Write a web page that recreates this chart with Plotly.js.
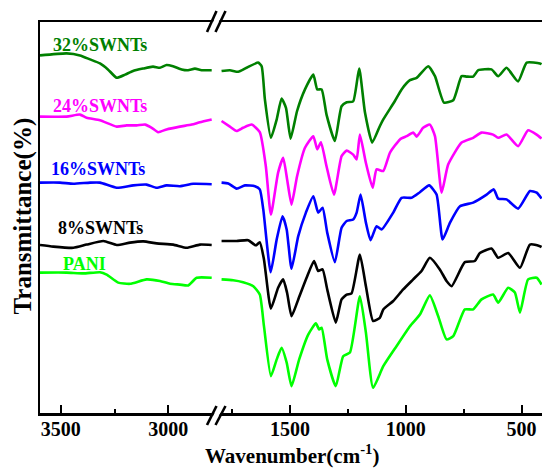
<!DOCTYPE html>
<html>
<head>
<meta charset="utf-8">
<script src="https://cdn.plot.ly/plotly-3.0.1.min.js"></script>
<style>html,body{margin:0;padding:0;background:#fff;}#chart{width:542px;height:468px;}</style>
</head>
<body>
<div id="chart"></div>
<script>
// ---- Data (wavenumber in cm^-1, transmittance in offset arbitrary units) ----
// Left (high-wavenumber) panel
const g32L_x = [3597,3473,3411,3364,3318,3281,3240,3201,3164,3118,3071,3039,3008,2978,2938,2908,2876,2845,2798];
const g32L_y = [89.4,89.9,89.4,88.4,87.4,85.9,83.8,84.6,85.5,86.1,86.6,86.3,87.0,86.7,85.9,85.7,86.1,85.7,85.7];
const p24L_x = [3597,3473,3411,3380,3318,3240,3194,3147,3108,3077,3047,3008,2946,2891,2853,2798];
const p24L_y = [74.1,74.1,74.6,73.8,73.2,71.6,71.9,71.9,72.1,71.3,70.2,70.9,71.6,72.1,72.7,73.4];
const b16L_x = [3597,3504,3442,3364,3318,3240,3163,3101,3054,3008,2946,2884,2798];
const b16L_y = [57.6,57.6,57.3,57.6,57.6,56.3,56.9,57.1,56.3,56.9,56.7,57.3,57.2];
const k8L_x  = [3597,3535,3442,3380,3302,3240,3178,3116,3054,2977,2914,2853,2798];
const k8L_y  = [42.0,41.6,41.3,42.1,43.0,42.0,42.6,42.9,42.4,42.1,41.3,42.1,42.0];
const paniL_x = [3597,3473,3395,3318,3287,3233,3178,3101,3039,2992,2946,2907,2868,2798];
const paniL_y = [35.1,35.1,34.9,35.2,34.6,32.6,32.3,33.4,33.0,32.3,32.1,31.9,33.8,33.8];

// Right (fingerprint) panel
const g32R_x = [1795,1759,1723,1687,1637,1622,1608,1582,1557,1536,1517,1497,1469,1435,1399,1382,1363,1342,1306,1277,1255,1227,1201,1176,1145,1112,1097,1047,1018,982,953,903,874,835,795,759,737,709,687,630,601,565,515,478,421,414];
const g32R_y = [85.5,85.7,85.3,86.3,87.6,86.7,78.4,68.8,73.4,78.6,76.3,68.6,75.5,80.9,84.6,80.9,80.9,74.6,68.0,76.7,77.7,77.9,86.1,75.1,67.6,71.7,73.4,78.0,80.9,83.2,83.8,86.7,84.2,77.6,78.2,84.2,84.1,84.1,85.7,85.9,84.2,86.3,82.9,87.6,87.4,87.2];
const p24R_x = [1795,1759,1730,1702,1665,1630,1604,1582,1551,1529,1512,1493,1469,1435,1399,1382,1366,1342,1310,1277,1255,1227,1212,1198,1172,1143,1126,1097,1068,1025,996,968,953,925,896,874,845,817,759,709,673,623,601,565,515,472,435,414];
const p24R_y = [73.0,71.6,70.5,71.3,72.1,70.2,61.7,49.6,60.1,63.8,58.4,52.1,59.2,66.3,69.2,65.9,67.7,61.7,54.6,64.2,65.6,64.6,63.4,69.6,62.5,56.3,60.9,60.5,65.1,68.4,69.2,70.1,69.1,71.3,72.1,69.2,55.1,62.1,67.6,68.8,70.1,69.6,68.8,69.6,66.7,70.7,69.6,68.6];
const b16R_x = [1795,1766,1730,1694,1651,1630,1615,1583,1557,1532,1514,1493,1464,1431,1399,1378,1359,1339,1306,1277,1255,1227,1212,1195,1172,1152,1126,1104,1054,1018,975,939,899,867,841,809,766,709,651,620,601,565,515,464,435,414];
const b16R_y = [57.6,57.4,56.1,56.9,56.7,55.9,50.9,35.2,43.4,49.2,45.9,36.1,44.2,50.1,54.2,50.1,51.3,45.1,37.7,46.3,48.0,48.4,50.1,54.6,47.6,43.2,46.7,45.9,50.1,53.8,53.8,55.2,56.9,54.6,43.4,47.6,51.7,52.6,54.6,55.9,53.6,53.4,51.1,55.5,55.1,53.6];
const k8R_x  = [1795,1730,1680,1647,1630,1612,1582,1551,1529,1512,1493,1464,1428,1396,1378,1359,1339,1302,1277,1255,1234,1198,1172,1141,1112,1097,1054,1011,968,932,896,853,824,802,745,702,680,630,601,558,507,464,421,414];
const k8R_y  = [43.0,43.0,43.2,41.9,42.7,38.4,26.1,31.3,33.4,30.0,24.2,28.4,33.8,38.0,35.5,35.9,30.9,22.6,28.4,29.6,29.9,39.6,31.7,23.0,23.8,25.9,28.0,30.9,33.4,35.5,38.8,35.9,33.0,31.7,37.7,38.0,40.0,41.1,38.8,40.0,36.3,42.1,41.7,41.5];
const paniR_x = [1795,1745,1702,1658,1630,1612,1582,1557,1536,1514,1493,1460,1421,1388,1374,1363,1339,1302,1270,1241,1198,1172,1141,1097,1040,982,939,896,860,824,795,745,709,673,623,601,558,529,507,472,435,414];
const paniR_y = [33.4,33.2,32.7,31.7,29.6,21.7,9.2,13.4,16.3,12.6,6.7,13.4,19.6,22.4,20.9,21.3,13.4,6.7,14.2,15.1,29.2,20.1,6.3,11.7,16.7,21.7,24.6,29.4,24.2,18.4,19.2,25.9,25.9,28.4,29.6,27.6,31.3,30.1,25.1,33.4,33.8,32.1];

const seriesNames = ['32%SWNTs','24%SWNTs','16%SWNTs','8%SWNTs','PANI'];
const seriesColors = ['#008000','#FF00FF','#0000FF','#000000','#00FF00'];
const leftTickVals = [3500, 3000];
const leftMinorVals = [3250];
const rightTickVals = [1500, 1000, 500];
const rightMinorVals = [1750, 1250, 750];

const leftX = [g32L_x, p24L_x, b16L_x, k8L_x, paniL_x];
const leftY = [g32L_y, p24L_y, b16L_y, k8L_y, paniL_y];
const rightX = [g32R_x, p24R_x, b16R_x, k8R_x, paniR_x];
const rightY = [g32R_y, p24R_y, b16R_y, k8R_y, paniR_y];

// ---- geometry helpers (pixel -> paper) ----
const W = 542, H = 468, ML = 40, MR = 0, MT = 22, MB = 55;
const PW = W - ML - MR, PH = H - MT - MB;
const px = v => (v - ML) / PW;
const py = v => (H - MB - v) / PH;
const split = px(216);

const FONT = 'Liberation Serif, Times New Roman, serif';

const traces = [];
for (let i = 0; i < 5; i++) {
  const line = {color: seriesColors[i], width: 2.6, shape: 'spline', smoothing: 0.5};
  traces.push({x: leftX[i], y: leftY[i], xaxis: 'x', yaxis: 'y', mode: 'lines', line: line, name: seriesNames[i], showlegend: false, hoverinfo: 'skip'});
  traces.push({x: rightX[i], y: rightY[i], xaxis: 'x2', yaxis: 'y', mode: 'lines', line: line, name: seriesNames[i], showlegend: false, hoverinfo: 'skip'});
}

const axCommon = {
  showgrid: false, zeroline: false, showline: true, linecolor: '#000', linewidth: 2.5, mirror: true,
  ticks: 'inside', ticklen: 8, tickwidth: 2, tickcolor: '#000',
  tickfont: {family: FONT, size: 20, color: '#000', weight: 'bold'},
  ticklabelstandoff: -4,
  fixedrange: true
};

const layout = {
  width: W, height: H,
  margin: {l: ML, r: MR, t: MT, b: MB, pad: 0},
  paper_bgcolor: '#fff', plot_bgcolor: '#fff',
  showlegend: false,
  xaxis: Object.assign({}, axCommon, {
    domain: [0, split], range: [3597, 2778], anchor: 'y',
    tickmode: 'array', tickvals: leftTickVals, ticktext: leftTickVals.map(v => '<b>' + v + '</b>'),
    minor: {tickmode: 'array', tickvals: leftMinorVals, ticks: 'inside', ticklen: 4, tickwidth: 2, tickcolor: '#000', showgrid: false}
  }),
  xaxis2: Object.assign({}, axCommon, {
    domain: [split, 1], range: [1819, 412], anchor: 'y',
    tickmode: 'array', tickvals: rightTickVals, ticktext: rightTickVals.map(v => '<b>' + v + '</b>'),
    minor: {tickmode: 'array', tickvals: rightMinorVals, ticks: 'inside', ticklen: 4, tickwidth: 2, tickcolor: '#000', showgrid: false}
  }),
  yaxis: {
    domain: [0, 1], range: [0, 97.75], anchor: 'x',
    showgrid: false, zeroline: false, showline: true, linecolor: '#000', linewidth: 2.5,
    ticks: '', showticklabels: false, fixedrange: true
  },
  shapes: [],
  annotations: []
};

// axis break marks (//) on top and bottom axis lines
function breakMarks(yb, yt) {
  const s = [];
  const a1b = [207, yb], a1t = [216.5, yt], a2b = [215.5, yb], a2t = [225.5, yt];
  s.push({type: 'path', xref: 'paper', yref: 'paper',
    path: 'M ' + px(a1b[0]+1.5) + ' ' + py(a1b[1]) + ' L ' + px(a1t[0]+1.5) + ' ' + py(a1t[1]) + ' L ' + px(a2t[0]-1.5) + ' ' + py(a2t[1]) + ' L ' + px(a2b[0]-1.5) + ' ' + py(a2b[1]) + ' Z',
    fillcolor: '#fff', line: {width: 0}});
  [[a1b, a1t], [a2b, a2t]].forEach(p => s.push({type: 'line', xref: 'paper', yref: 'paper',
    x0: px(p[0][0]), y0: py(p[0][1]), x1: px(p[1][0]), y1: py(p[1][1]), line: {color: '#000', width: 2.6}}));
  return s;
}
layout.shapes = breakMarks(32, 11).concat(breakMarks(425, 406));

// series labels
const labelPos = [[52, 45], [52, 106], [50, 169], [57, 227.5], [62, 263.5]];
seriesNames.forEach((n, i) => layout.annotations.push({
  xref: 'paper', yref: 'paper', x: px(labelPos[i][0]), y: py(labelPos[i][1]),
  xanchor: 'left', yanchor: 'middle', showarrow: false, borderpad: 0,
  text: '<b>' + n + '</b>', font: {family: FONT, size: 18, color: seriesColors[i]}
}));

// axis titles
layout.annotations.push({
  xref: 'paper', yref: 'paper', x: px(292), y: py(469), xanchor: 'center', yanchor: 'bottom', showarrow: false, borderpad: 0,
  text: '<b>Wavenumber(cm<sup>-1</sup>)</b>', font: {family: FONT, size: 21, color: '#000'}
});
layout.annotations.push({
  xref: 'paper', yref: 'paper', x: px(22.5), y: py(216), xanchor: 'center', yanchor: 'middle', showarrow: false,
  textangle: -90, text: '<b>Transmittance(%)</b>', font: {family: FONT, size: 25, color: '#000'}
});

Plotly.newPlot('chart', traces, layout, {staticPlot: true, displayModeBar: false});
</script>
</body>
</html>
